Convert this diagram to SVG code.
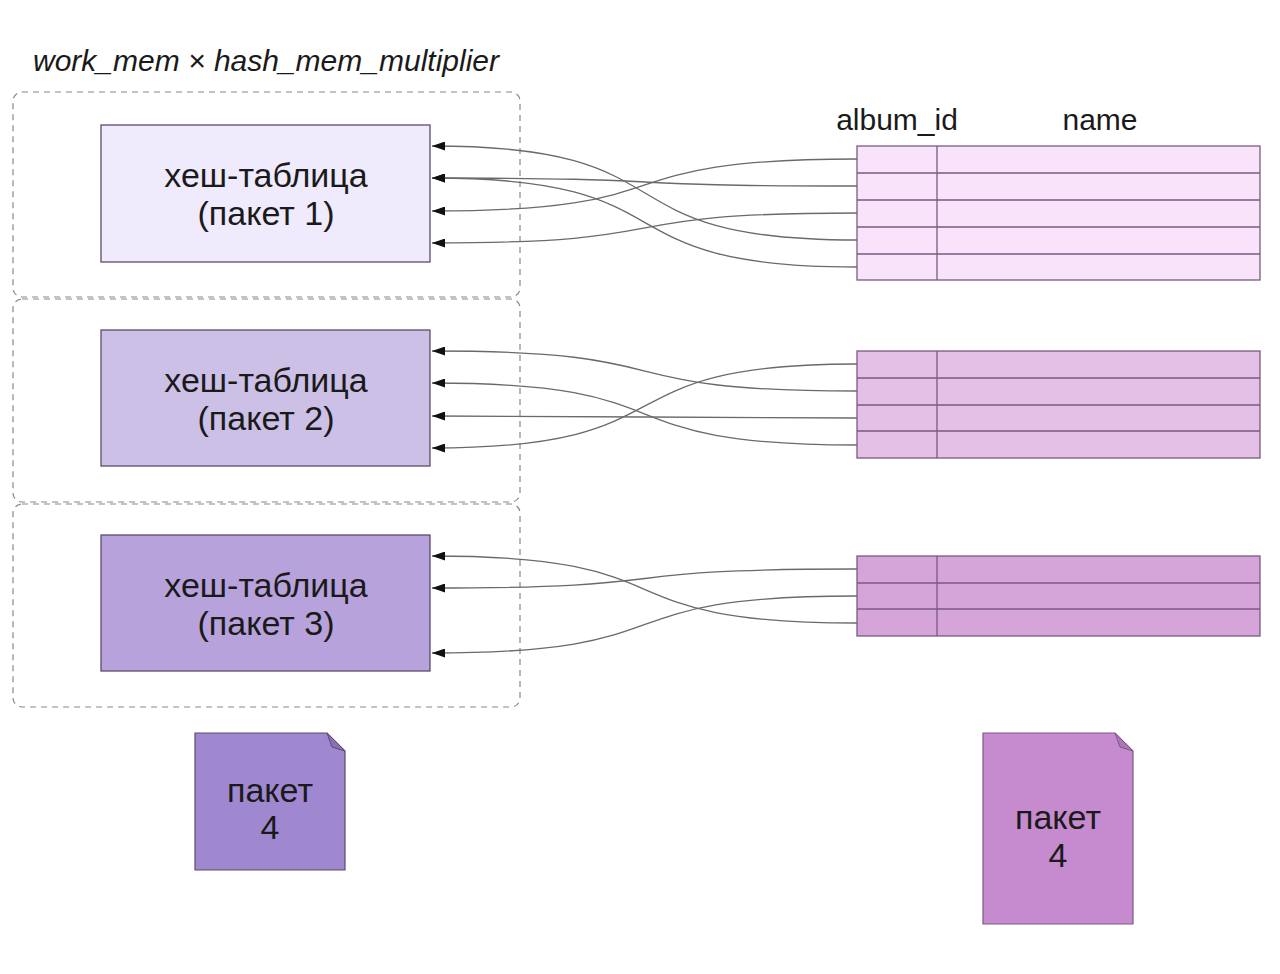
<svg xmlns="http://www.w3.org/2000/svg" width="1280" height="974" viewBox="0 0 1280 974">
<defs>
<marker id="ah" viewBox="0 0 13 9" refX="0" refY="4.5" markerWidth="13" markerHeight="9" markerUnits="userSpaceOnUse" orient="auto">
<path d="M0,4.5 L13,0 L13,9 Z" fill="#111"/>
</marker>
<style>
text{font-family:"Liberation Sans",Arial,sans-serif;fill:#1a1a1a;text-anchor:middle}
.dash{fill:none;stroke:#888;stroke-width:1.2;stroke-dasharray:6 5}
.hb{stroke:#5d4b6b;stroke-width:1.3}
.tb{stroke:#7a5a80;stroke-width:1.3}
.ln{stroke:#7a5a80;stroke-width:1.3;fill:none}
.big{font-size:34px}
.hdr{font-size:30px}
.c{fill:none;stroke:#6a6a6a;stroke-width:1.3;marker-start:url(#ah)}
</style>
</defs>
<rect width="1280" height="974" fill="#ffffff"/>
<text x="266" y="71" font-size="30" font-style="italic">work_mem × hash_mem_multiplier</text>
<g id="mem1"><rect class="dash" x="13" y="92" width="507" height="205" rx="9"/></g>
<g id="mem2"><rect class="dash" x="13" y="299" width="507" height="203" rx="9"/></g>
<g id="mem3"><rect class="dash" x="13" y="504" width="507" height="203" rx="9"/></g>
<g id="hash1"><rect class="hb" x="101" y="125" width="329" height="137" fill="#efeafc"/>
<text class="big" x="266" y="187">хеш-таблица</text><text class="big" x="266" y="225">(пакет 1)</text></g>
<g id="hash2"><rect class="hb" x="101" y="330" width="329" height="136" fill="#ccc0e7"/>
<text class="big" x="266" y="392">хеш-таблица</text><text class="big" x="266" y="430">(пакет 2)</text></g>
<g id="hash3"><rect class="hb" x="101" y="535" width="329" height="136" fill="#b8a2db"/>
<text class="big" x="266" y="597">хеш-таблица</text><text class="big" x="266" y="635">(пакет 3)</text></g>
<text class="hdr" x="897" y="130">album_id</text>
<text class="hdr" x="1100" y="130">name</text>
<g id="table1"><rect class="tb" x="857" y="146" width="403" height="134" fill="#f9e3fb"/>
<path class="ln" d="M857,173H1260M857,200H1260M857,227H1260M857,254H1260M937,146V280"/></g>
<g id="table2"><rect class="tb" x="857" y="351" width="403" height="107" fill="#e5c0e6"/>
<path class="ln" d="M857,378H1260M857,405H1260M857,431H1260M937,351V458"/></g>
<g id="table3"><rect class="tb" x="857" y="556" width="403" height="80" fill="#d5a4d9"/>
<path class="ln" d="M857,583H1260M857,609H1260M937,556V636"/></g>
<g id="connectors">
<path class="c" d="M432,146 C700,146 590,240 857,240"/>
<path class="c" d="M432,178 C700,178 590,186 857,186"/>
<path class="c" d="M432,178 C700,178 590,267 857,267"/>
<path class="c" d="M432,211 C700,211 590,159 857,159"/>
<path class="c" d="M432,243 C700,243 590,213 857,213"/>
<path class="c" d="M432,351 C700,351 590,391 857,391"/>
<path class="c" d="M432,383 C700,383 590,445 857,445"/>
<path class="c" d="M432,416 C700,416 590,418 857,418"/>
<path class="c" d="M432,448 C700,448 590,364 857,364"/>
<path class="c" d="M432,556 C700,556 590,623 857,623"/>
<path class="c" d="M432,588 C700,588 590,569 857,569"/>
<path class="c" d="M432,653 C700,653 590,596 857,596"/>
</g>
<g id="packet4left">
<path d="M195,733 H327 L345,751 V870 H195 Z" fill="#9f88cf" stroke="#5d4b6b" stroke-width="1.2"/>
<path d="M327,733 L345,751 L332,747 Z" fill="#8a70bb" stroke="#5d4b6b" stroke-width="1"/>
<text class="big" x="270" y="802">пакет</text><text class="big" x="270" y="839">4</text></g>
<g id="packet4right">
<path d="M983,733 H1115 L1133,751 V924 H983 Z" fill="#c68bcf" stroke="#7a5a80" stroke-width="1.2"/>
<path d="M1115,733 L1133,751 L1120,747 Z" fill="#b073bb" stroke="#7a5a80" stroke-width="1"/>
<text class="big" x="1058" y="829">пакет</text><text class="big" x="1058" y="867">4</text></g>
</svg>
